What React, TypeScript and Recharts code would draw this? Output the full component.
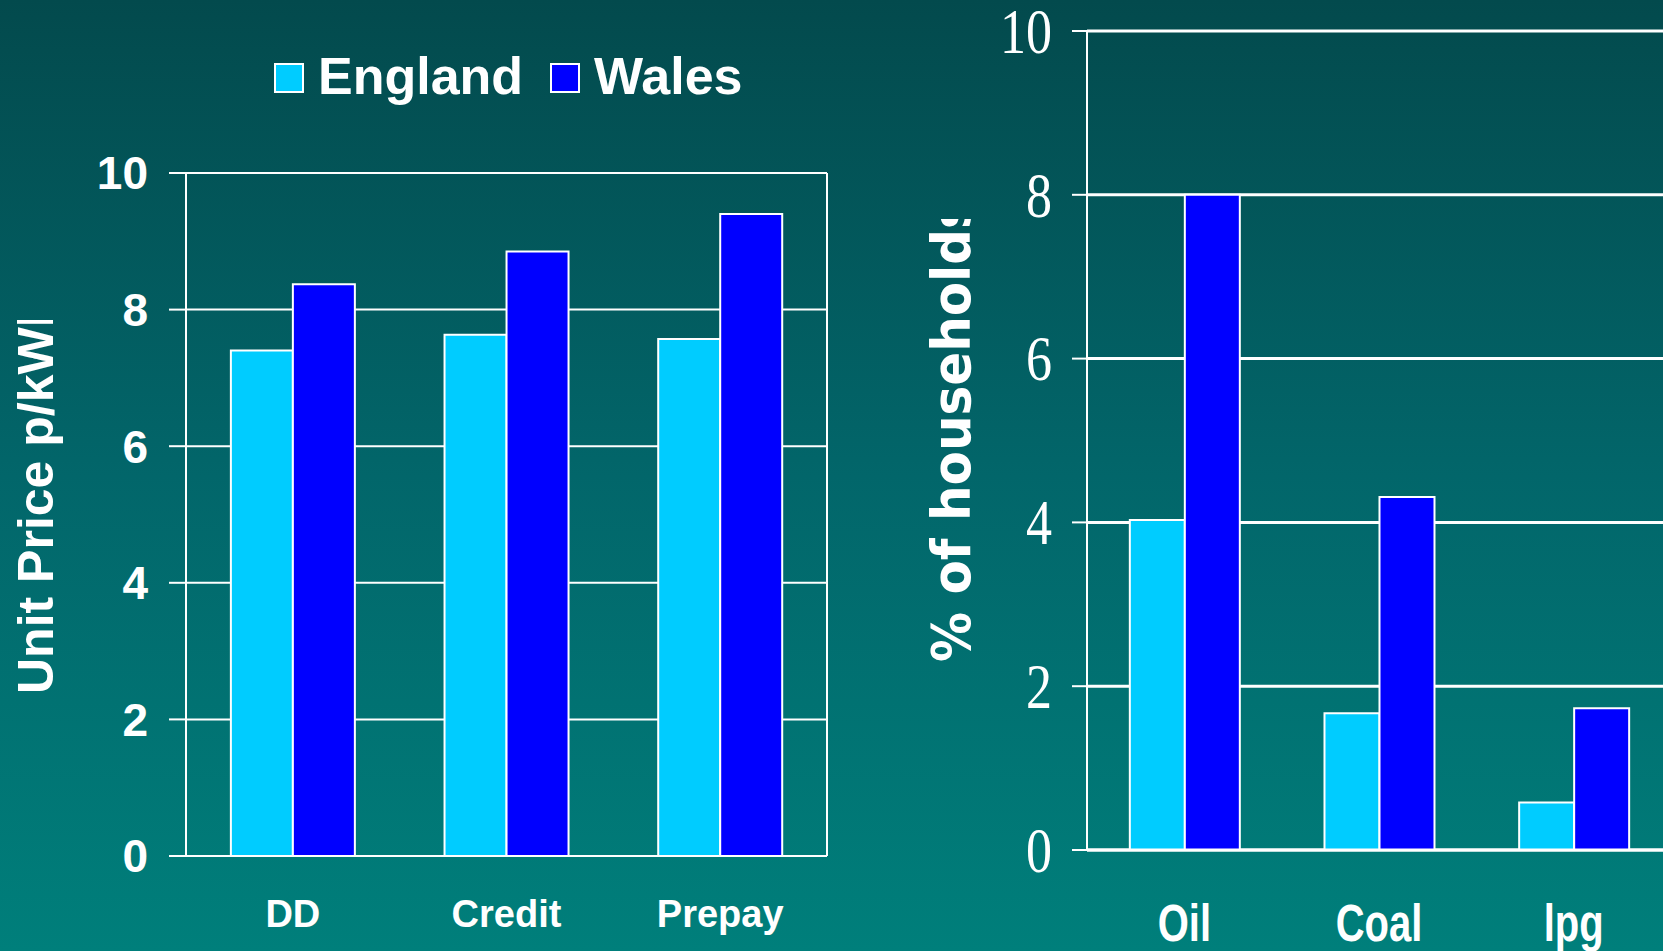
import React from 'react';
import { BarChart, Bar, XAxis, YAxis, CartesianGrid, Legend } from 'recharts';

// ---- data ----
const tariffs = ['DD', 'Credit', 'Prepay'];
const englandPrice = [7.4, 7.63, 7.57];
const walesPrice = [8.37, 8.85, 9.4];

const fuels = ['Oil', 'Coal', 'lpg'];
const englandHouseholds = [4.03, 1.67, 0.58];
const walesHouseholds = [8.0, 4.31, 1.73];

const yTicks = [0, 2, 4, 6, 8, 10];
const edgeTicks = [0, 1, 2, 3];

const priceData = tariffs.map((t, i) => ({ name: t, England: englandPrice[i], Wales: walesPrice[i] }));
const fuelData = fuels.map((f, i) => ({ name: f, England: englandHouseholds[i], Wales: walesHouseholds[i] }));

const ENGLAND = '#00CCFF';
const WALES = '#0000FF';
const SANS = 'Liberation Sans, Arial, sans-serif';
const SERIF = 'Liberation Serif, Times New Roman, serif';

const LeftCatTick = (props: any) => {
  const { x, y, payload } = props;
  return (
    <text x={x} y={y + 70} textAnchor="middle" fill="#fff" fontSize={38} fontWeight={700} fontFamily={SANS}>
      {payload.value}
    </text>
  );
};

const RightCatTick = (props: any) => {
  const { x, y, payload } = props;
  return (
    <g transform={`translate(${x},${y + 89.5}) scale(1,1.3)`}>
      <text x={0} y={0} textAnchor="middle" fill="#fff" fontSize={40} fontWeight={700} fontFamily={SANS}>
        {payload.value}
      </text>
    </g>
  );
};

const SerifTick = (props: any) => {
  const { x, y, payload } = props;
  return (
    <g transform={`translate(${x},${y}) scale(1,1.23)`}>
      <text x={0} y={0} dy="0.34em" textAnchor="end" fill="#fff" fontSize={52} fontFamily={SERIF}>
        {payload.value}
      </text>
    </g>
  );
};

const LeftTitle = () => (
  <g>
    <defs>
      <clipPath id="clipLeftTitle">
        <rect x={0} y={320} width={180} height={640} />
      </clipPath>
    </defs>
    <g clipPath="url(#clipLeftTitle)">
      <text
        transform="translate(53,694) rotate(-90)"
        x={0}
        y={0}
        textAnchor="start"
        fill="#fff"
        fontSize={50}
        fontWeight={700}
        fontFamily={SANS}
      >
        Unit Price p/kWh
      </text>
    </g>
  </g>
);

const RightTitle = () => (
  <g>
    <defs>
      <clipPath id="clipRightTitle">
        <rect x={0} y={219} width={200} height={760} />
      </clipPath>
    </defs>
    <g clipPath="url(#clipRightTitle)">
      <text
        transform="translate(110,662) rotate(-90) scale(1,1.07)"
        x={0}
        y={0}
        textAnchor="start"
        fill="#fff"
        fontSize={50}
        fontWeight={700}
        fontFamily="DejaVu Sans, Verdana, sans-serif"
      >
        % of households
      </text>
    </g>
  </g>
);

const LegendContent = (props: any) => {
  const { payload } = props;
  return (
    <div style={{ display: 'flex', alignItems: 'flex-start', whiteSpace: 'nowrap' }}>
      {(payload || []).map((entry: any, i: number) => (
        <div key={i} style={{ display: 'flex', alignItems: 'flex-start', marginRight: i === 0 ? 27 : 0 }}>
          <div
            style={{
              width: 30,
              height: 30,
              boxSizing: 'border-box',
              background: entry.color,
              border: '2px solid #fff',
              marginTop: 13,
              marginRight: 14,
            }}
          />
          <span
            style={{
              color: '#fff',
              fontFamily: SANS,
              fontWeight: 700,
              fontSize: 52,
              lineHeight: '52px',
            }}
          >
            {entry.value}
          </span>
        </div>
      ))}
    </div>
  );
};

export default function App() {
  return (
    <div
      style={{
        position: 'fixed',
        left: 0,
        top: 0,
        width: 1663,
        height: 951,
        overflow: 'hidden',
        background: 'linear-gradient(180deg, #034a4d 0%, #02666a 50%, #007f7b 100%)',
      }}
    >
      <div style={{ position: 'absolute', left: 0, top: 0 }}>
        <BarChart
          width={890}
          height={951}
          data={priceData}
          margin={{ top: 173, right: 62, bottom: 0, left: 0 }}
          barCategoryGap="21%"
          barGap={0}
        >
          <CartesianGrid xAxisId="b_cat" vertical={false} stroke="#fff" strokeWidth={2} />
          <XAxis
            xAxisId="a_edge"
            type="number"
            domain={[0, 3]}
            allowDataOverflow
            ticks={edgeTicks}
            height={1}
            tick={false}
            tickSize={12}
            axisLine={{ stroke: '#fff', strokeWidth: 2 }}
            tickLine={{ stroke: '#fff', strokeWidth: 2 }}
          />
          <XAxis
            xAxisId="b_cat"
            dataKey="name"
            height={94}
            interval={0}
            axisLine={false}
            tickLine={false}
            tickSize={0}
            tickMargin={0}
            tick={<LeftCatTick />}
          />
          <YAxis
            domain={[0, 10]}
            ticks={yTicks}
            width={186}
            tickSize={17}
            tickMargin={21}
            axisLine={{ stroke: '#fff', strokeWidth: 2 }}
            tickLine={{ stroke: '#fff', strokeWidth: 2 }}
            tick={{ fill: '#fff', fontSize: 46, fontWeight: 700, fontFamily: SANS }}
            label={() => <LeftTitle />}
          />
          <YAxis
            yAxisId="frame"
            orientation="right"
            domain={[0, 10]}
            width={1}
            tick={false}
            tickLine={false}
            axisLine={{ stroke: '#fff', strokeWidth: 2 }}
          />
          <Legend
            layout="horizontal"
            verticalAlign="middle"
            align="center"
            wrapperStyle={{ top: 50, left: 274, width: 'auto' }}
            content={<LegendContent />}
          />
          <Bar xAxisId="b_cat" dataKey="England" name="England" fill={ENGLAND} stroke="#fff" strokeWidth={2} isAnimationActive={false} />
          <Bar xAxisId="b_cat" dataKey="Wales" name="Wales" fill={WALES} stroke="#fff" strokeWidth={2} isAnimationActive={false} />
        </BarChart>
      </div>
      <div style={{ position: 'absolute', left: 860, top: 0 }}>
        <BarChart
          width={811}
          height={951}
          data={fuelData}
          margin={{ top: 31, right: 0, bottom: 0, left: 0 }}
          barCategoryGap="22%"
          barGap={0}
        >
          <CartesianGrid xAxisId="b_cat" vertical={false} stroke="#fff" strokeWidth={3} />
          <XAxis
            xAxisId="a_edge"
            type="number"
            domain={[0, 3]}
            allowDataOverflow
            ticks={edgeTicks}
            height={1}
            tick={false}
            tickSize={16}
            axisLine={{ stroke: '#fff', strokeWidth: 3 }}
            tickLine={{ stroke: '#fff', strokeWidth: 2 }}
          />
          <XAxis
            xAxisId="b_cat"
            dataKey="name"
            height={100}
            interval={0}
            axisLine={false}
            tickLine={false}
            tickSize={0}
            tickMargin={0}
            tick={<RightCatTick />}
          />
          <YAxis
            domain={[0, 10]}
            ticks={yTicks}
            width={227}
            tickSize={15}
            tickMargin={20}
            axisLine={{ stroke: '#fff', strokeWidth: 2 }}
            tickLine={{ stroke: '#fff', strokeWidth: 2 }}
            tick={<SerifTick />}
            label={() => <RightTitle />}
          />
          <Bar xAxisId="b_cat" dataKey="England" name="England" fill={ENGLAND} stroke="#fff" strokeWidth={2} isAnimationActive={false} />
          <Bar xAxisId="b_cat" dataKey="Wales" name="Wales" fill={WALES} stroke="#fff" strokeWidth={2} isAnimationActive={false} />
        </BarChart>
      </div>
    </div>
  );
}
